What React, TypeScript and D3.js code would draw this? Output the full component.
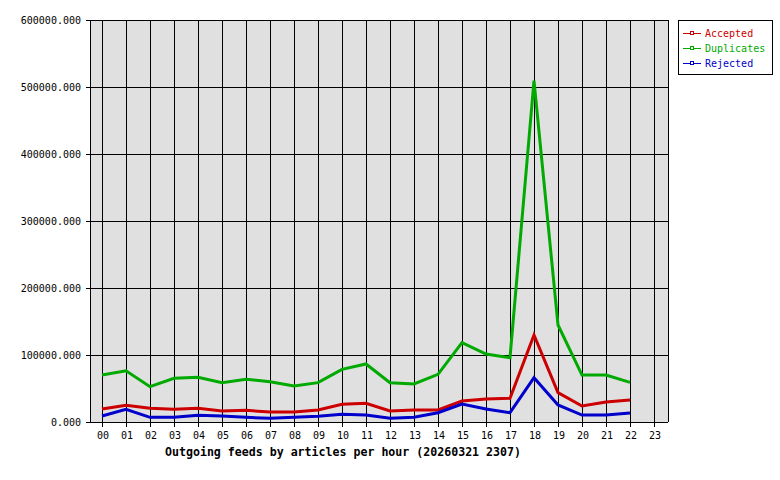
import React, { useEffect, useRef } from "react";
import * as d3 from "d3";

const hours = ["00","01","02","03","04","05","06","07","08","09","10","11","12","13","14","15","16","17","18","19","20","21","22","23"];
const accepted = [19400,24900,20400,18900,20400,16400,17400,14900,14900,17900,26400,27900,16400,17900,17900,31300,34300,35300,129800,43800,23900,29800,32800];
const duplicates = [70000,76500,52700,65200,66700,58700,63700,60200,53700,58700,78600,86600,58700,56700,71200,118400,101500,96000,509400,144800,70100,70100,59200];
const rejected = [8900,18900,7000,7000,10000,8900,7000,5500,7000,8500,11500,10400,5500,7000,13900,26900,19400,13900,66100,25400,10400,10400,13400];
const yTicks = [0,100000,200000,300000,400000,500000,600000];
const seriesNames = ["Accepted","Duplicates","Rejected"];
const seriesColors = ["#cc0000","#00aa00","#0000cc"];

export default function App() {
  const svgRef = useRef<SVGSVGElement>(null);

  useEffect(() => {
    const svg = d3.select(svgRef.current);
    svg.selectAll("*").remove();
    const mono = "'DejaVu Sans Mono', monospace";

    const x = d3.scaleBand<string>().domain(hours).range([90, 666]);
    const y = d3.scaleLinear().domain([0, 600000]).range([422, 20]);

    svg.append("rect").attr("width", 780).attr("height", 480).attr("fill", "#fff");
    svg.append("rect")
      .attr("x", 90).attr("y", 20).attr("width", 578).attr("height", 402)
      .attr("fill", "#e0e0e0");

    const g = svg.append("g").attr("shape-rendering", "crispEdges");
    // horizontal grid + y ticks
    g.selectAll(".hg").data(yTicks).join("line")
      .attr("x1", 86).attr("x2", 668)
      .attr("y1", d => Math.round(y(d)) + 0.5).attr("y2", d => Math.round(y(d)) + 0.5)
      .attr("stroke", "#000");
    // vertical grid + x ticks
    g.selectAll(".vg").data(hours).join("line")
      .attr("x1", d => Math.round(x(d)! + x.bandwidth() / 2) + 0.5)
      .attr("x2", d => Math.round(x(d)! + x.bandwidth() / 2) + 0.5)
      .attr("y1", 20).attr("y2", 427)
      .attr("stroke", "#000");
    g.append("line").attr("x1", 90.5).attr("x2", 90.5).attr("y1", 20).attr("y2", 422).attr("stroke", "#000");
    g.append("line").attr("x1", 668.5).attr("x2", 668.5).attr("y1", 20).attr("y2", 422).attr("stroke", "#000");

    svg.selectAll(".yl").data(yTicks).join("text")
      .attr("x", 81).attr("y", d => y(d) + 4)
      .attr("text-anchor", "end")
      .attr("font-family", mono).attr("font-size", 10)
      .text(d => d3.format(".3f")(d));

    svg.selectAll(".xl").data(hours).join("text")
      .attr("x", d => x(d)! + x.bandwidth() / 2 + 1).attr("y", 439)
      .attr("text-anchor", "middle")
      .attr("font-family", mono).attr("font-size", 10)
      .text(d => d);

    svg.append("text")
      .attr("x", 343).attr("y", 456)
      .attr("text-anchor", "middle")
      .attr("font-family", mono).attr("font-size", 11.6).attr("font-weight", "bold")
      .text("Outgoing feeds by articles per hour (20260321 2307)");

    const line = d3.line<number>()
      .x((_, i) => x(hours[i])! + x.bandwidth() / 2)
      .y(d => y(d))
      .curve(d3.curveLinear);

    [accepted, duplicates, rejected].forEach((vals, i) => {
      svg.append("path")
        .attr("d", line(vals)!)
        .attr("fill", "none")
        .attr("stroke", seriesColors[i])
        .attr("stroke-width", 3)
        .attr("stroke-linejoin", "miter");
    });

    // legend
    const lg = svg.append("g").attr("transform", "translate(678,20)");
    lg.append("rect").attr("x", 0.5).attr("y", 0.5).attr("width", 94).attr("height", 54)
      .attr("fill", "#fff").attr("stroke", "#000").attr("shape-rendering", "crispEdges");
    seriesNames.forEach((name, i) => {
      const yy = 13 + i * 15;
      lg.append("line").attr("x1", 5).attr("x2", 23).attr("y1", yy + 0.5).attr("y2", yy + 0.5)
        .attr("stroke", seriesColors[i]).attr("shape-rendering", "crispEdges");
      lg.append("rect").attr("x", 12.5).attr("y", yy - 1.5).attr("width", 3).attr("height", 3)
        .attr("fill", "#fff").attr("stroke", seriesColors[i]).attr("shape-rendering", "crispEdges");
      lg.append("text").attr("x", 27).attr("y", yy + 4)
        .attr("font-family", mono).attr("font-size", 10)
        .attr("fill", seriesColors[i]).text(name);
    });
  }, []);

  return (
    <svg ref={svgRef} width={780} height={480}
      style={{ position: "absolute", left: 0, top: 0 }} />
  );
}
